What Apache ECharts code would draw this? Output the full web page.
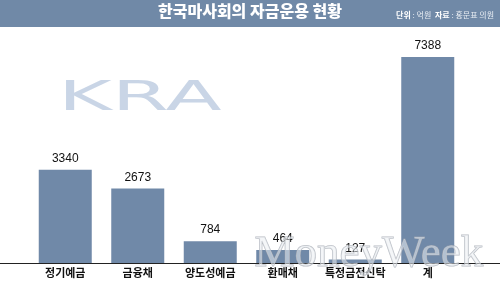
<!DOCTYPE html>
<html><head><meta charset="utf-8">
<script src="https://cdn.jsdelivr.net/npm/echarts@6/dist/echarts.min.js"></script>
<style>html,body{margin:0;padding:0;background:#fff}#c{width:500px;height:281px}</style>
</head><body><div id="c"></div>
<script>
const categories = ['정기예금', '금융채', '양도성예금', '환매채', '특정금전신탁', '계'];
const values = [3340, 2673, 784, 464, 127, 7388];
const title = '한국마사회의 자금운용 현황';
const noteUnit = ['단위', ' : 억원  '];
const noteSrc = ['자료', ' : 홍문표 의원'];

const chart = echarts.init(document.getElementById('c'));
const KR = '"Noto Sans CJK KR", "Noto Sans", sans-serif';
chart.setOption({
  animation: false,
  graphic: [
    {type: 'rect', shape: {x: 0, y: 0, width: 500, height: 27}, style: {fill: '#7089a7'}, z: 0},
    {type: 'text', left: 'center', top: 3, style: {text: title, fill: '#fff', font: '900 16px ' + KR}},
    {type: 'text', right: 6, top: 11, style: {
      text: '{b|' + noteUnit[0] + '}{n|' + noteUnit[1] + '}{b|' + noteSrc[0] + '}{n|' + noteSrc[1] + '}',
      rich: {
        b: {fill: '#fff', font: 'bold 8px ' + KR},
        n: {fill: '#e8edf3', font: '8px ' + KR}
      }
    }},
    {type: 'text', x: 58, y: 80, scaleX: 2.05, scaleY: 1, style: {text: 'KRA', fill: '#c3d0e3', font: '40px "DejaVu Sans", sans-serif', opacity: 0.9}, z: 0},
    {type: 'text', left: 254, top: 231, style: {text: 'MoneyWeek', fill: 'rgba(235,238,242,0.55)', stroke: 'rgba(160,165,175,0.75)', lineWidth: 1, font: '45px "Liberation Serif", serif'}, z: 100},
    {type: 'line', shape: {x1: 0, y1: 263.5, x2: 500, y2: 263.5}, style: {stroke: '#222', lineWidth: 1.2}, z: 50}
  ],
  grid: {left: 29, right: 36, top: 57, bottom: 18},
  xAxis: {
    type: 'category', data: categories,
    axisLine: {show: false}, axisTick: {show: false},
    axisLabel: {interval: 0, color: '#111', fontWeight: 'bold', fontSize: 11, fontFamily: KR, margin: 4}
  },
  yAxis: {type: 'value', min: 0, max: 7388, show: false, splitLine: {show: false}},
  series: [{
    type: 'bar', data: values, barWidth: 53,
    itemStyle: {color: '#7089a8'},
    label: {show: true, position: 'top', color: '#111', fontSize: 12, fontFamily: 'Liberation Sans, Arial, sans-serif', distance: 5}
  }]
});
</script></body></html>
